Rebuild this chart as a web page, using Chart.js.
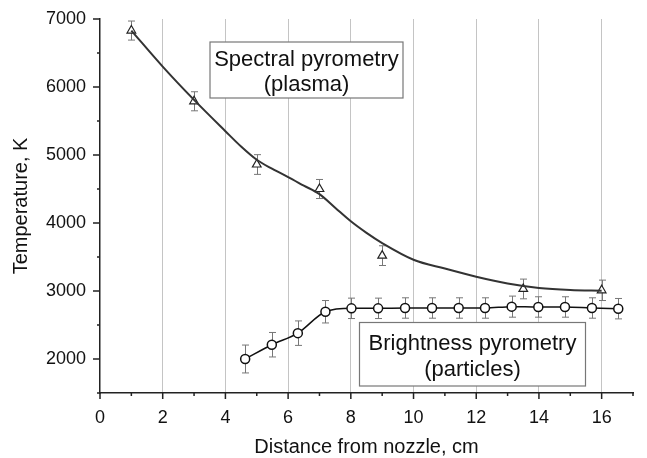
<!DOCTYPE html>
<html>
<head>
<meta charset="utf-8">
<script src="https://cdn.jsdelivr.net/npm/chart.js@4"></script>
<style>
  html, body { margin: 0; padding: 0; background: #fff; }
  #wrap { width: 647px; height: 458px; }
</style>
</head>
<body>
<div id="wrap"><canvas id="tempChart" width="647" height="458"></canvas></div>
<script>
// Spectral pyrometry (plasma) - measured points
const spectralX = [1, 3, 5, 7, 9, 13.5, 16];
const spectralT = [6830, 5790, 4860, 4500, 3520, 3030, 3010];
const spectralErr = [140, 140, 145, 140, 145, 145, 150];

// fitted curve through the plasma points
const fitX = [1, 2, 3, 4, 4.5, 5, 5.5, 6, 6.5, 7, 7.5, 8, 8.5, 9, 10, 11, 12, 13, 14, 15, 16];
const fitT = [6830, 6300, 5810, 5350, 5125, 4930, 4795, 4675, 4550, 4425, 4225, 4025, 3855, 3705, 3460, 3330, 3210, 3110, 3045, 3015, 3005];

// Brightness pyrometry (particles)
const particleX = [4.63, 5.48, 6.31, 7.19, 8.02, 8.87, 9.73, 10.59, 11.44, 12.28, 13.13, 13.98, 14.83, 15.69, 16.53];
const particleT = [2000, 2210, 2380, 2695, 2745, 2745, 2750, 2750, 2750, 2750, 2770, 2765, 2765, 2750, 2740];
const particleErr = [205, 180, 180, 165, 150, 150, 150, 150, 150, 150, 155, 150, 150, 150, 150];

// axis ticks
const xTicks = [0, 2, 4, 6, 8, 10, 12, 14, 16];
const yTicks = [2000, 3000, 4000, 5000, 6000, 7000];

const FONT = '"Liberation Sans", Arial, sans-serif';

const toPts = (xs, ys) => xs.map((x, i) => ({ x: x, y: ys[i] }));

// labelled boxes, error bars and axis tick marks
const extras = {
    id: 'extras',
    beforeDatasetsDraw(chart) {
        const { ctx } = chart;
        const xs = chart.scales.x, ys = chart.scales.y;

        // text boxes
        const boxes = [
            { x: 210, y: 42, w: 193, h: 56, lines: ['Spectral pyrometry', '(plasma)'], base: [65.5, 91] },
            { x: 359.5, y: 322.5, w: 226, h: 63.5, lines: ['Brightness pyrometry', '(particles)'], base: [349.5, 375.5] }
        ];
        ctx.save();
        boxes.forEach(b => {
            ctx.fillStyle = '#fff';
            ctx.fillRect(b.x, b.y, b.w, b.h);
            ctx.strokeStyle = '#777';
            ctx.lineWidth = 1.2;
            ctx.strokeRect(b.x, b.y, b.w, b.h);
            ctx.fillStyle = '#111';
            ctx.font = '22px ' + FONT;
            ctx.textAlign = 'center';
            ctx.textBaseline = 'alphabetic';
            b.lines.forEach((t, i) => ctx.fillText(t, b.x + b.w / 2, b.base[i]));
        });

        // error bars
        ctx.strokeStyle = '#777';
        ctx.lineWidth = 1;
        const bars = (xArr, yArr, eArr) => {
            xArr.forEach((x, i) => {
                const px = Math.round(xs.getPixelForValue(x)) + 0.5;
                const top = ys.getPixelForValue(yArr[i] + eArr[i]);
                const bot = ys.getPixelForValue(yArr[i] - eArr[i]);
                ctx.beginPath();
                ctx.moveTo(px, top); ctx.lineTo(px, bot);
                ctx.moveTo(px - 3.5, top); ctx.lineTo(px + 3.5, top);
                ctx.moveTo(px - 3.5, bot); ctx.lineTo(px + 3.5, bot);
                ctx.stroke();
            });
        };
        bars(spectralX, spectralT, spectralErr);
        bars(particleX, particleT, particleErr);
        ctx.restore();
    },
    afterDraw(chart) {
        const { ctx, chartArea } = chart;
        const xs = chart.scales.x, ys = chart.scales.y;
        ctx.save();
        ctx.strokeStyle = '#222';
        ctx.lineWidth = 1.5;
        ctx.beginPath();
        xs.ticks.forEach(t => {
            const px = xs.getPixelForValue(t.value);
            const len = t.value % 2 === 0 ? 6 : 3;
            ctx.moveTo(px, chartArea.bottom); ctx.lineTo(px, chartArea.bottom + len);
        });
        ys.ticks.forEach(t => {
            const py = ys.getPixelForValue(t.value);
            const len = t.value % 1000 === 0 ? 7 : 3;
            ctx.moveTo(chartArea.left, py); ctx.lineTo(chartArea.left - len, py);
        });
        ctx.stroke();
        ctx.restore();
    }
};

new Chart(document.getElementById('tempChart'), {
    type: 'scatter',
    data: {
        datasets: [
            {
                label: 'fit',
                data: toPts(fitX, fitT),
                showLine: true,
                borderColor: '#333',
                borderWidth: 2,
                pointRadius: 0,
                cubicInterpolationMode: 'monotone'
            },
            {
                label: 'Spectral pyrometry (plasma)',
                data: toPts(spectralX, spectralT),
                showLine: false,
                pointStyle: 'triangle',
                pointRadius: 5,
                pointBackgroundColor: '#fff',
                pointBorderColor: '#222',
                pointBorderWidth: 1.2
            },
            {
                label: 'Brightness pyrometry (particles)',
                data: toPts(particleX, particleT),
                showLine: true,
                borderColor: '#111',
                borderWidth: 1.5,
                cubicInterpolationMode: 'monotone',
                pointStyle: 'circle',
                pointRadius: 4.5,
                pointBackgroundColor: '#fff',
                pointBorderColor: '#111',
                pointBorderWidth: 1.5
            }
        ]
    },
    options: {
        responsive: false,
        animation: false,
        events: [],
        layout: { padding: { top: 19, right: 14, left: 0, bottom: 0 } },
        plugins: {
            legend: { display: false },
            tooltip: { enabled: false }
        },
        scales: {
            x: {
                type: 'linear',
                min: 0,
                max: 17,
                afterFit: s => { s.height = 65; s.paddingLeft = 0; s.paddingRight = 0; },
                afterBuildTicks: s => {
                    s.ticks = Array.from({ length: 18 }, (_, i) => ({ value: i }));
                },
                ticks: {
                    autoSkip: false,
                    maxRotation: 0,
                    padding: 14,
                    color: '#111',
                    font: { family: FONT, size: 18 },
                    callback: v => xTicks.includes(v) ? String(v) : ''
                },
                grid: {
                    drawTicks: false,
                    color: c => (c.tick && xTicks.includes(c.tick.value) && c.tick.value > 0) ? '#c4c4c4' : 'rgba(0,0,0,0)',
                    lineWidth: 1
                },
                border: { display: true, color: '#222', width: 1.5 },
                title: {
                    display: true,
                    text: 'Distance from nozzle, cm',
                    color: '#111',
                    font: { family: FONT, size: 20 },
                    padding: { top: 0, bottom: -1 }
                }
            },
            y: {
                type: 'linear',
                min: 1500,
                max: 7000,
                afterFit: s => { s.width = 100; s.paddingTop = 0; s.paddingBottom = 0; },
                afterBuildTicks: s => {
                    const t = [];
                    for (let v = 1500; v <= 7000; v += 500) t.push({ value: v });
                    s.ticks = t;
                },
                ticks: {
                    autoSkip: false,
                    padding: 14,
                    color: '#111',
                    font: { family: FONT, size: 18 },
                    callback: v => yTicks.includes(v) ? String(v) : ''
                },
                grid: { display: false, drawTicks: false },
                border: { display: true, color: '#222', width: 1.5 },
                title: {
                    display: true,
                    text: 'Temperature, K',
                    color: '#111',
                    font: { family: FONT, size: 20 },
                    padding: { top: 9, bottom: 0 }
                }
            }
        }
    },
    plugins: [extras]
});
</script>
</body>
</html>
